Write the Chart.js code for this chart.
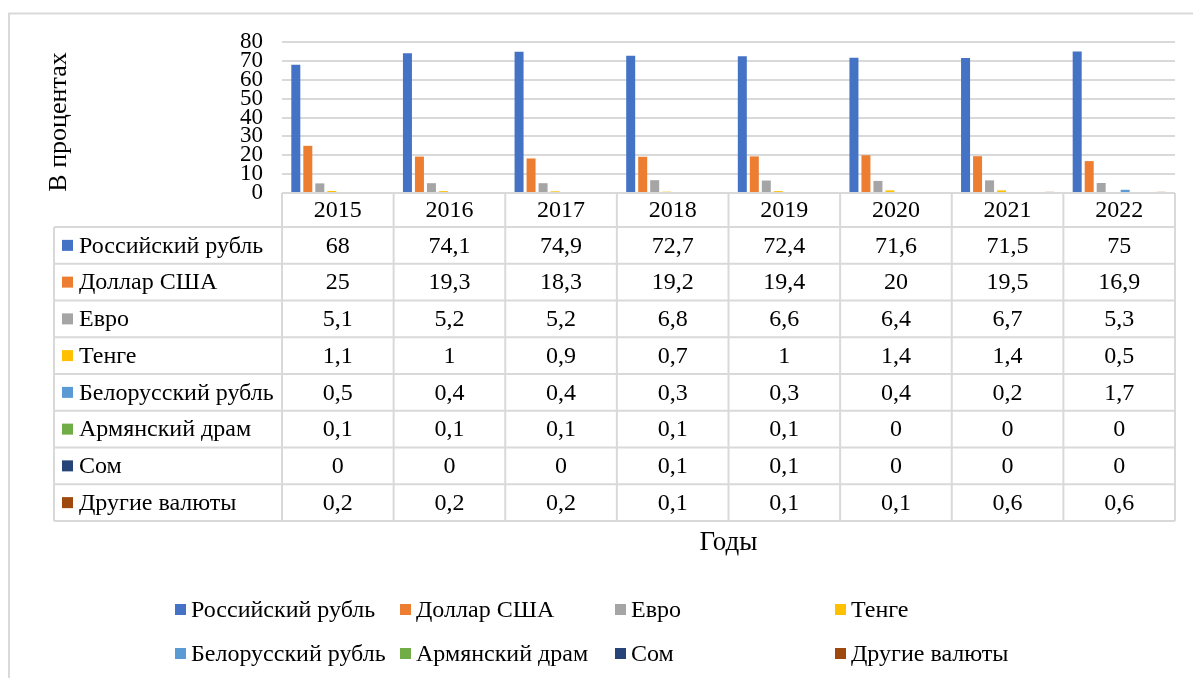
<!DOCTYPE html>
<html>
<head>
<meta charset="utf-8">
<script src="https://cdn.jsdelivr.net/npm/chart.js@4/dist/chart.umd.min.js"></script>
<style>
  html, body { margin: 0; padding: 0; background: #fff; }
  #wrap { width: 1193px; height: 678px; }
</style>
</head>
<body>
<div id="wrap"><canvas id="c" width="1193" height="678"></canvas></div>
<script>
// ---- Data ----
const years = ['2015', '2016', '2017', '2018', '2019', '2020', '2021', '2022'];
const seriesNames = ['Российский рубль', 'Доллар США', 'Евро', 'Тенге', 'Белорусский рубль', 'Армянский драм', 'Сом', 'Другие валюты'];
const rub   = [68, 74.1, 74.9, 72.7, 72.4, 71.6, 71.5, 75];
const usd   = [25, 19.3, 18.3, 19.2, 19.4, 20, 19.5, 16.9];
const eur   = [5.1, 5.2, 5.2, 6.8, 6.6, 6.4, 6.7, 5.3];
const tenge = [1.1, 1, 0.9, 0.7, 1, 1.4, 1.4, 0.5];
const byn   = [0.5, 0.4, 0.4, 0.3, 0.3, 0.4, 0.2, 1.7];
const amd   = [0.1, 0.1, 0.1, 0.1, 0.1, 0, 0, 0];
const som   = [0, 0, 0, 0.1, 0.1, 0, 0, 0];
const other = [0.2, 0.2, 0.2, 0.1, 0.1, 0.1, 0.6, 0.6];
const yTicks = [0, 10, 20, 30, 40, 50, 60, 70, 80];
const yTitle = 'В процентах';
const xTitle = 'Годы';

const seriesValues = [rub, usd, eur, tenge, byn, amd, som, other];
const colors = ['#4472C4', '#ED7D31', '#A5A5A5', '#FFC000', '#5B9BD5', '#70AD47', '#264478', '#9E480E'];

const FONT = '"Liberation Serif", "Times New Roman", serif';
const GRID = '#D9D9D9';

const fmt = v => String(v).replace('.', ',');

const tablePlugin = {
  id: 'dataTable',
  afterDraw(chart) {
    const { ctx, chartArea, scales: { x } } = chart;
    const n = years.length;
    const colW = (chartArea.right - chartArea.left) / n;
    const top = chartArea.bottom;
    const headerBottom = top + 34;
    const rowH = 36.75;
    const nRows = seriesNames.length;
    const tableBottom = headerBottom + rowH * nRows;
    const tableLeft = 54;
    const firstColRight = chartArea.left;
    const right = chartArea.right;

    ctx.save();
    // outer frame (top and left edges visible)
    ctx.strokeStyle = GRID;
    ctx.lineWidth = 2;
    ctx.beginPath();
    ctx.moveTo(9, 678); ctx.lineTo(9, 13.5); ctx.lineTo(1193, 13.5);
    ctx.stroke();

    // table lines
    ctx.lineWidth = 2;
    ctx.strokeStyle = GRID;
    ctx.beginPath();
    ctx.moveTo(firstColRight, top); ctx.lineTo(right, top);
    for (let r = 0; r <= nRows; r++) {
      const yy = headerBottom + r * rowH;
      ctx.moveTo(tableLeft, yy); ctx.lineTo(right, yy);
    }
    ctx.moveTo(tableLeft, headerBottom); ctx.lineTo(tableLeft, tableBottom);
    for (let i = 0; i < n; i++) {
      const cx = x.getPixelForValue(i);
      const l = cx - colW / 2;
      ctx.moveTo(l, top); ctx.lineTo(l, tableBottom);
    }
    ctx.moveTo(right, top); ctx.lineTo(right, tableBottom);
    ctx.stroke();

    // header text
    ctx.fillStyle = '#000';
    ctx.font = '24px ' + FONT;
    ctx.textAlign = 'center';
    ctx.textBaseline = 'middle';
    for (let i = 0; i < n; i++) {
      ctx.fillText(years[i], x.getPixelForValue(i), (top + headerBottom) / 2 + 1);
    }
    // rows
    for (let r = 0; r < nRows; r++) {
      const cy = headerBottom + r * rowH + rowH / 2 + 1;
      ctx.fillStyle = colors[r];
      ctx.fillRect(62, cy - 6.5, 11, 11);
      ctx.fillStyle = '#000';
      ctx.textAlign = 'left';
      ctx.fillText(seriesNames[r], 79, cy);
      ctx.textAlign = 'center';
      const vals = seriesValues[r];
      for (let i = 0; i < n; i++) {
        ctx.fillText(fmt(vals[i]), x.getPixelForValue(i), cy);
      }
    }

    // x title
    ctx.font = '27px ' + FONT;
    ctx.textAlign = 'center';
    ctx.textBaseline = 'alphabetic';
    ctx.fillText(xTitle, (chartArea.left + chartArea.right) / 2, 550);

    // y title
    ctx.save();
    ctx.translate(66, 122);
    ctx.rotate(-Math.PI / 2);
    ctx.textAlign = 'center';
    ctx.textBaseline = 'alphabetic';
    ctx.font = '26px ' + FONT;
    ctx.fillText(yTitle, 0, 0);
    ctx.restore();

    // legend
    const legX = [175, 400, 615, 835];
    const legY = [610, 654];
    ctx.font = '24px ' + FONT;
    ctx.textAlign = 'left';
    ctx.textBaseline = 'middle';
    for (let k = 0; k < seriesNames.length; k++) {
      const lx = legX[k % 4];
      const ly = legY[Math.floor(k / 4)];
      ctx.fillStyle = colors[k];
      ctx.fillRect(lx, ly - 6, 11, 11);
      ctx.fillStyle = '#000';
      ctx.fillText(seriesNames[k], lx + 16, ly + 1);
    }
    ctx.restore();
  }
};

const datasets = seriesNames.map((name, k) => ({
  label: name,
  data: seriesValues[k],
  backgroundColor: colors[k],
  borderWidth: 0,
  categoryPercentage: 0.86,
  barPercentage: 0.75
}));

new Chart(document.getElementById('c'), {
  type: 'bar',
  data: { labels: years, datasets },
  options: {
    responsive: false,
    animation: false,
    layout: { padding: { left: 0, top: 42, right: 18, bottom: 485 } },
    plugins: {
      legend: { display: false },
      tooltip: { enabled: false }
    },
    scales: {
      x: {
        display: false,
        grid: { display: false }
      },
      y: {
        min: 0,
        max: 80,
        afterFit(scale) { scale.width = 282; },
        afterBuildTicks(scale) { scale.ticks = yTicks.map(v => ({ value: v })); },
        border: { display: false },
        grid: { color: GRID, lineWidth: 2, drawTicks: false },
        ticks: {
          stepSize: 10,
          autoSkip: false,
          padding: 19,
          color: '#000',
          font: { family: FONT, size: 23, lineHeight: 1 }
        }
      }
    }
  },
  plugins: [tablePlugin]
});
</script>
</body>
</html>
